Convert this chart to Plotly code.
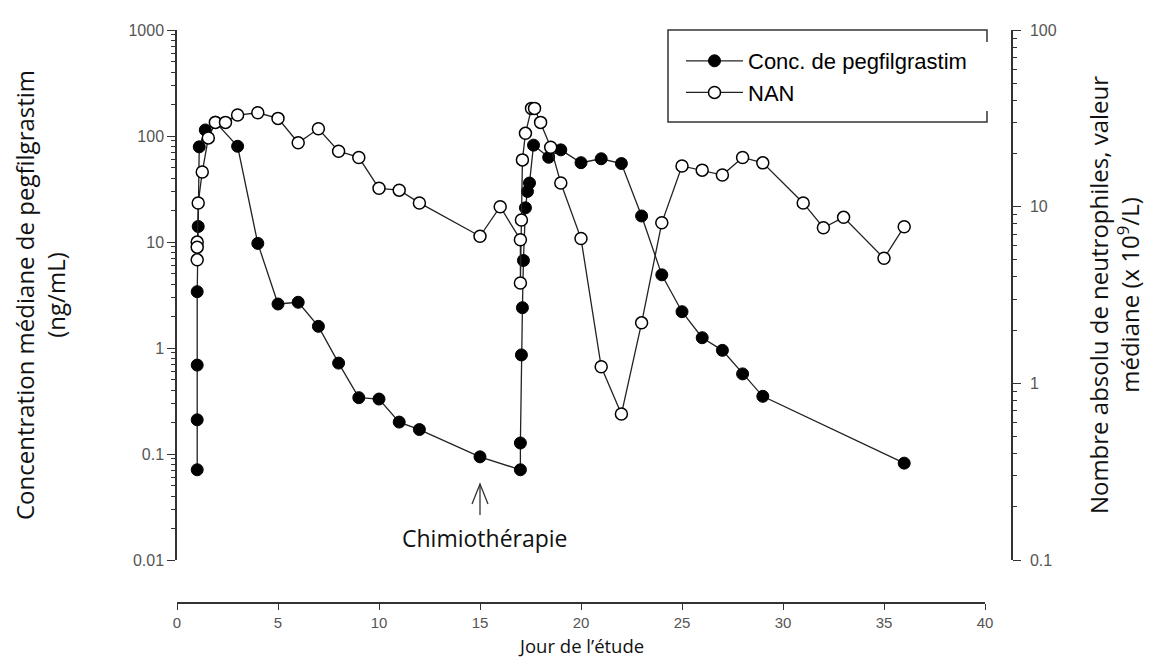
import plotly.graph_objects as go

# ---------------- data ----------------
days_conc = [1.0, 1.0, 1.0, 1.0, 1.05, 1.1, 1.4, 1.9, 3, 4, 5, 6, 7, 8, 9, 10, 11, 12, 15,
             17.0, 17.0, 17.05, 17.1, 17.15, 17.25, 17.35, 17.45, 17.65, 18.4, 19, 20, 21, 22,
             23, 24, 25, 26, 27, 28, 29, 36]
conc = [0.071, 0.21, 0.69, 3.4, 14, 79, 114, 135, 80, 9.7, 2.6, 2.7, 1.6, 0.72, 0.34, 0.33,
        0.2, 0.17, 0.094, 0.071, 0.127, 0.86, 2.4, 6.7, 21, 30, 36, 82, 63, 74, 56, 61, 55,
        17.6, 4.9, 2.2, 1.25, 0.95, 0.57, 0.35, 0.082]

days_anc = [1.0, 1.0, 1.0, 1.05, 1.25, 1.55, 1.9, 2.4, 3, 4, 5, 6, 7, 8, 9, 10, 11, 12, 15, 16,
            17.0, 17.0, 17.05, 17.1, 17.25, 17.55, 17.7, 18.0, 18.5, 19, 20, 21, 22, 23, 24,
            25, 26, 27, 28, 29, 31, 32, 33, 35, 36]
anc = [6.3, 5.9, 5.0, 10.5, 15.7, 24.5, 30, 30, 33, 34, 31.6, 23, 27.6, 20.6, 19, 12.7, 12.4,
       10.5, 6.8, 10, 6.5, 3.7, 8.4, 18.4, 26, 36, 36, 30, 21.7, 13.6, 6.6, 1.24, 0.67, 2.2,
       8.1, 17, 16.1, 15.1, 19, 17.7, 10.5, 7.6, 8.7, 5.1, 7.7]

x_ticks = [0, 5, 10, 15, 20, 25, 30, 35, 40]
y1_ticks = [0.01, 0.1, 1, 10, 100, 1000]
y1_labels = ["0.01", "0.1", "1", "10", "100", "1000"]
y2_ticks = [0.1, 1, 10, 100]
y2_labels = ["0.1", "1", "10", "100"]
chemo_day = 15

# ---------------- geometry ----------------
OFF = 8                     # page body margin
W, H = 1152 - OFF, 658 - OFF
PLOT_L, PLOT_R, PLOT_T, AXIS_B = 177, 1012, 30, 603   # page pixels
L, R, T, B = PLOT_L - OFF, W - (PLOT_R - OFF), PLOT_T - OFF, H - (AXIS_B - OFF)
PW, PH = W - L - R, H - T - B


def px(xp):   # page x pixel -> paper fraction
    return (xp - OFF - L) / PW


def py(yp):   # page y pixel -> paper fraction
    return (H - B - (yp - OFF)) / PH


def minor_vals(lo, hi):
    out = []
    for e in range(lo, hi):
        for k in range(2, 10):
            out.append(k * 10 ** e)
    return out


TICKFONT = dict(family="Liberation Sans, Arial", size=16, color="#555")
XTICKFONT = dict(family="Liberation Sans, Arial", size=15, color="#555")
YTITLEFONT = dict(family="Open Sans", size=24, color="#111")
XTITLEFONT = dict(family="Open Sans", size=18.5, color="#111")
AX = "#333"

fig = go.Figure()
fig.add_trace(go.Scatter(
    x=days_conc, y=conc, name="Conc. de pegfilgrastim", mode="lines+markers",
    legendgroup="a",
    line=dict(color="#222", width=1.3),
    marker=dict(symbol="circle", size=12, color="black", line=dict(color="black", width=1)),
))
fig.add_trace(go.Scatter(
    x=days_anc, y=anc, name="NAN", yaxis="y2", mode="lines+markers",
    legendgroup="b",
    line=dict(color="#222", width=1.3),
    marker=dict(symbol="circle", size=12, color="white", line=dict(color="black", width=1.5)),
))

dom_y = [py(560), 1]
fig.update_layout(
    width=W, height=H,
    margin=dict(l=L, r=R, t=T, b=B, autoexpand=False),
    paper_bgcolor="white", plot_bgcolor="white",
    showlegend=True,
    legend=dict(x=px(681), y=py(40), xanchor="left", yanchor="top",
                bgcolor="rgba(0,0,0,0)", borderwidth=0, itemwidth=57,
                font=dict(family="Liberation Sans, Arial", size=22, color="black"),
                tracegroupgap=0),
    xaxis=dict(domain=[0, px(985)], range=[0, 40], anchor="free", position=0,
               automargin=False,
               showline=True, linecolor=AX, linewidth=1.5, ticks="outside", ticklen=6,
               tickcolor=AX, tickvals=x_ticks, showgrid=False, zeroline=False,
               tickfont=XTICKFONT),
    yaxis=dict(type="log", range=[-2, 3], domain=dom_y, anchor="x", automargin=False,
               showline=True, linecolor=AX, linewidth=1.5, ticks="outside", ticklen=8,
               tickcolor=AX, tickvals=y1_ticks, ticktext=y1_labels, showgrid=False,
               zeroline=False, tickfont=TICKFONT,
               minor=dict(ticks="outside", ticklen=4, tickcolor=AX,
                          tickvals=minor_vals(-2, 3), showgrid=False),
               title=dict(text="Concentration médiane de pegfilgrastim<br>(ng/mL)",
                          font=YTITLEFONT, standoff=68)),
    yaxis2=dict(type="log", range=[-1, 2], domain=dom_y, overlaying="y", side="right",
                anchor="free", position=1, automargin=False,
                showline=True, linecolor=AX, linewidth=1.5, ticks="outside", ticklen=8,
                tickcolor=AX, tickvals=y2_ticks, ticktext=y2_labels, showgrid=False,
                zeroline=False, tickfont=TICKFONT, ticklabelstandoff=6,
                minor=dict(ticks="outside", ticklen=4, tickcolor=AX,
                           tickvals=minor_vals(-1, 2), showgrid=False),
                title=dict(text="Nombre absolu de neutrophiles, valeur<br>médiane (x 10<sup>9</sup>/L)",
                           font=YTITLEFONT, standoff=34)),
)

# x-axis title (placed as annotation so it can sit close to the bottom edge)
fig.add_annotation(x=(px(177) + px(985)) / 2, xref="paper", y=py(645), yref="paper",
                   xanchor="center", yanchor="middle", showarrow=False,
                   text="Jour de l’étude", font=XTITLEFONT)

# legend frame (bracket style)
x0, x1, y0, y1 = px(668), px(987), py(30), py(122)
fig.add_shape(type="path", xref="paper", yref="paper",
              path=f"M{x1},{py(42)} L{x1},{y0} L{x0},{y0} L{x0},{y1} L{x1},{y1} L{x1},{py(111)}",
              line=dict(color="#333", width=1.5))

# chemotherapy arrow (stem + open chevron head)
cx = px(PLOT_L) + (px(985) - px(PLOT_L)) * chemo_day / 40.0
dx = 1.0 / PW
fig.add_shape(type="line", xref="paper", yref="paper",
              x0=cx, x1=cx, y0=py(515), y1=py(484), line=dict(color="#333", width=1.3))
fig.add_shape(type="path", xref="paper", yref="paper",
              path=f"M{cx - 8 * dx},{py(504)} L{cx},{py(484)} L{cx + 8 * dx},{py(504)}",
              line=dict(color="#333", width=1.3))
fig.add_annotation(x=chemo_day + 0.25, xref="x", y=py(538), yref="paper",
                   yanchor="middle", xanchor="center",
                   text="Chimiothérapie", showarrow=False,
                   font=dict(family="Open Sans", size=23, color="#111"))

fig.write_html("out.html")
